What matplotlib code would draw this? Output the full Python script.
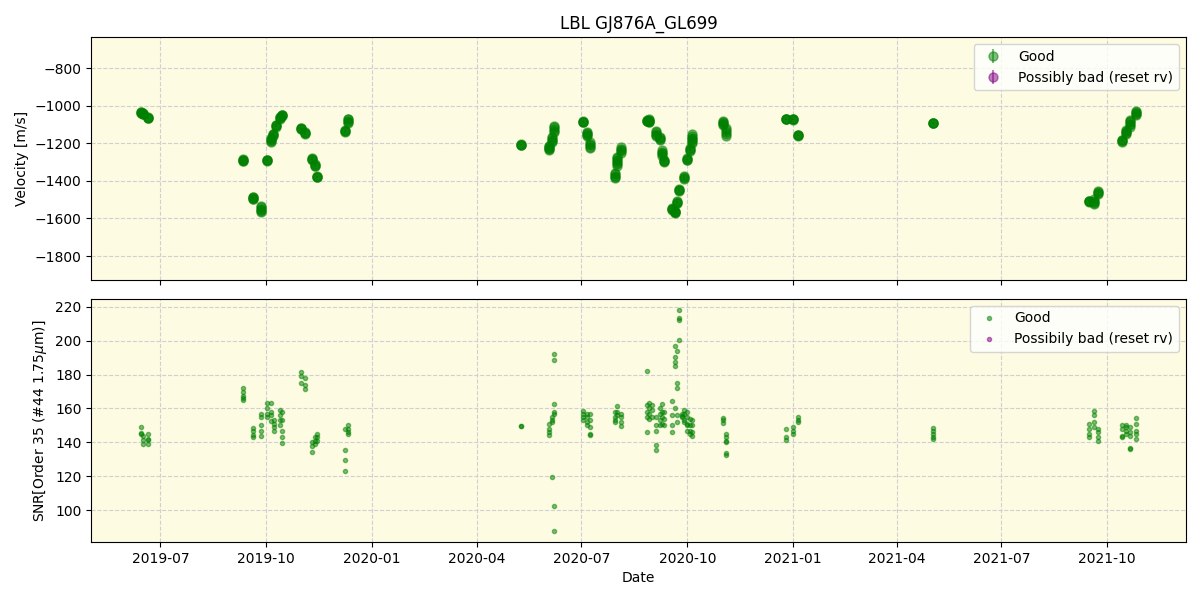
import matplotlib.pyplot as plt
import matplotlib.dates as mdates
import numpy as np
import pandas as pd


# =====
# Nights and velocities (several exposures per night)
# =====
rv_nights = [
    "2019-06-14", "2019-06-16", "2019-06-20",
    "2019-09-11", "2019-09-19", "2019-09-26",
    "2019-10-02", "2019-10-05", "2019-10-07", "2019-10-09", "2019-10-13", "2019-10-15",
    "2019-10-31", "2019-11-04", "2019-11-10", "2019-11-12", "2019-11-14",
    "2019-12-08", "2019-12-11",
    "2020-05-09", "2020-06-03", "2020-06-05", "2020-06-07",
    "2020-07-02", "2020-07-06", "2020-07-08",
    "2020-07-30", "2020-08-01", "2020-08-04",
    "2020-08-27", "2020-08-29",
    "2020-09-04", "2020-09-07", "2020-09-09", "2020-09-11",
    "2020-09-18", "2020-09-20", "2020-09-22", "2020-09-24", "2020-09-28",
    "2020-10-01", "2020-10-03", "2020-10-05",
    "2020-11-01", "2020-11-04", "2020-12-26", "2021-01-01", "2021-01-05",
    "2021-05-03",
    "2021-09-15", "2021-09-20", "2021-09-23",
    "2021-10-14", "2021-10-17", "2021-10-21", "2021-10-26",
]
rv_by_night = [
    [-1033, -1034, -1036, -1036], [-1040, -1041, -1043, -1043], [-1058, -1062, -1063, -1066],
    [-1285, -1288, -1290, -1292, -1294], [-1484, -1488, -1490, -1494, -1496],
    [-1533, -1540, -1548, -1555, -1560, -1566],
    [-1286, -1288, -1290, -1292], [-1193, -1186, -1182, -1176, -1172], [-1160, -1155, -1150, -1148],
    [-1112, -1108, -1104, -1100], [-1068, -1064, -1060, -1058], [-1052, -1050, -1048, -1046],
    [-1118, -1120, -1122, -1124], [-1140, -1144, -1147, -1150], [-1278, -1282, -1285, -1288],
    [-1312, -1316, -1319, -1322], [-1375, -1377, -1378, -1380],
    [-1140, -1136, -1132, -1128], [-1090, -1084, -1078, -1072, -1068],
    [-1205, -1206, -1207, -1208],
    [-1235, -1230, -1226, -1222, -1216, -1212], [-1195, -1188, -1180, -1172, -1165],
    [-1140, -1132, -1122, -1114, -1106],
    [-1082, -1084, -1086, -1088], [-1140, -1146, -1152, -1157, -1162],
    [-1195, -1202, -1210, -1217, -1224],
    [-1385, -1378, -1372, -1365, -1358], [-1320, -1310, -1302, -1294, -1286, -1278, -1272],
    [-1250, -1242, -1235, -1228, -1220],
    [-1082, -1080, -1078, -1076], [-1070, -1074, -1078, -1080, -1084, -1086],
    [-1135, -1141, -1148, -1155, -1162], [-1180, -1176, -1172, -1168],
    [-1236, -1244, -1252, -1259, -1266], [-1288, -1292, -1296, -1300],
    [-1545, -1548, -1552, -1555], [-1562, -1566, -1570, -1568, -1565],
    [-1520, -1516, -1512, -1508], [-1455, -1450, -1447, -1444], [-1392, -1386, -1381, -1376],
    [-1290, -1287, -1284, -1280], [-1240, -1235, -1230, -1225],
    [-1200, -1192, -1184, -1177, -1170, -1160, -1152],
    [-1080, -1085, -1090, -1095, -1100], [-1120, -1130, -1140, -1150, -1160],
    [-1070, -1071, -1071, -1072], [-1070, -1071, -1072, -1073], [-1155, -1156, -1157, -1158],
    [-1090, -1091, -1091, -1092],
    [-1505, -1507, -1508, -1510], [-1522, -1517, -1512, -1505, -1498],
    [-1470, -1465, -1460, -1455],
    [-1190, -1186, -1183, -1180], [-1152, -1146, -1140, -1134, -1128],
    [-1112, -1104, -1096, -1088, -1082, -1076], [-1050, -1044, -1038, -1033, -1028],
]

# =====
# Nights and SNR values
# =====
snr_nights = [
    "2019-06-14", "2019-06-16", "2019-06-20",
    "2019-09-11", "2019-09-19", "2019-09-26",
    "2019-10-02", "2019-10-05", "2019-10-08", "2019-10-13", "2019-10-15",
    "2019-10-31", "2019-11-04", "2019-11-10", "2019-11-12", "2019-11-14",
    "2019-12-08", "2019-12-11",
    "2020-05-09", "2020-06-03", "2020-06-05", "2020-06-07",
    "2020-07-02", "2020-07-06", "2020-07-08",
    "2020-07-30", "2020-08-01", "2020-08-04",
    "2020-08-27", "2020-08-29", "2020-08-31",
    "2020-09-04", "2020-09-07", "2020-09-09", "2020-09-11",
    "2020-09-18", "2020-09-20", "2020-09-22", "2020-09-24", "2020-09-26", "2020-09-28",
    "2020-10-01", "2020-10-03", "2020-10-05",
    "2020-11-01", "2020-11-04", "2020-12-26", "2021-01-01", "2021-01-05",
    "2021-05-03",
    "2021-09-15", "2021-09-20", "2021-09-23",
    "2021-10-14", "2021-10-17", "2021-10-21", "2021-10-26",
]
snr_by_night = [
    [149.2, 145.7, 145.0], [143.7, 141.2, 139.0], [145.1, 142.0, 141.2, 139.2],
    [171.8, 169.5, 167.5, 166.0, 164.8], [148.6, 146.5, 144.5, 143.1],
    [157.0, 155.2, 150.0, 147.0, 143.7],
    [163.4, 160.0, 157.0, 155.0], [163.0, 158.0, 156.0, 152.5],
    [153.0, 151.0, 149.0, 147.0], [159.4, 156.0, 153.0, 150.0],
    [158.0, 153.0, 147.0, 143.0, 139.8],
    [181.4, 179.0, 175.0], [178.0, 174.0, 171.6], [140.0, 138.0, 134.5],
    [143.0, 141.0, 139.0], [144.7, 143.0, 141.0],
    [148.1, 135.7, 129.4, 123.4], [150.0, 148.0, 146.0, 145.0],
    [149.8, 149.4], [148.0, 146.0, 144.5, 151.0], [155.0, 153.0, 152.0, 119.8],
    [192.2, 188.6, 162.4, 158.0, 157.0, 102.8, 88.0],
    [158.8, 157.0, 155.0, 153.0], [157.0, 155.0, 152.0, 150.0],
    [156.9, 153.0, 149.0, 145.0, 144.3],
    [158.0, 155.0, 153.0, 152.0], [161.4, 158.0, 156.0], [157.0, 155.0, 152.0, 149.6],
    [182.2, 162.0, 158.0, 155.0, 146.3], [163.4, 160.0, 157.0, 153.6], [162.0, 159.0, 155.0],
    [155.0, 150.0, 147.0, 138.4, 135.5], [160.0, 157.0, 153.0, 150.0],
    [162.4, 158.0, 155.0, 151.0], [158.0, 154.0, 150.0],
    [164.7, 156.0, 150.0, 146.3], [197.0, 190.6, 187.6, 185.3, 160.4],
    [194.1, 175.1, 172.2, 156.0, 152.0], [218.0, 213.4, 212.2, 200.6],
    [155.5, 157.0, 155.0], [152.0, 159.4, 157.0, 153.0],
    [150.0, 158.0, 155.0, 151.0, 147.0], [145.0, 154.0, 150.0, 147.0],
    [144.0, 153.0, 150.0, 146.0],
    [154.5, 153.0, 151.6], [145.1, 143.0, 141.0, 140.4, 133.9, 132.4],
    [148.0, 143.0, 141.4], [149.0, 147.0, 145.0], [155.0, 153.5, 152.0],
    [148.6, 147.0, 145.0, 143.0, 142.2],
    [150.6, 147.9, 145.1, 143.5], [158.4, 156.0, 152.0, 149.0], [148.0, 146.0, 143.0, 140.8],
    [150.0, 148.0, 144.0, 143.0], [150.0, 149.0, 147.0, 145.0],
    [149.0, 146.0, 144.0, 137.0, 136.0], [154.5, 150.6, 147.0, 145.0, 142.0],
]

rv_dates = pd.to_datetime([d for d, v in zip(rv_nights, rv_by_night) for _ in v])
rv_vals = [x for v in rv_by_night for x in v]
rv_err = np.full(len(rv_vals), 3.0)

snr_dates = pd.to_datetime([d for d, v in zip(snr_nights, snr_by_night) for _ in v])
snr_vals = [x for v in snr_by_night for x in v]

# ====
# Plot Picture
# ====
fig, (ax1, ax2) = plt.subplots(2, 1, figsize=(12, 6), sharex=True)
fig.subplots_adjust(left=0.076, right=0.988, top=0.938, bottom=0.097, hspace=0.078)

for ax in (ax1, ax2):
    ax.set_facecolor('#fdfbe2')
    ax.grid(True, linestyle='--', color='#d0d0d0', linewidth=0.8)
    ax.set_axisbelow(True)

ax1.errorbar(rv_dates, rv_vals, yerr=rv_err, fmt='o', color='green',
             alpha=0.5, ms=6.5, label='Good')
ax1.errorbar([], [], yerr=[], fmt='o', color='purple', alpha=0.5, ms=6.5,
             label='Possibly bad (reset rv)')
ax1.set_ylim(-1928, -634)
ax1.set_ylabel('Velocity [m/s]')
ax1.set_title('LBL GJ876A_GL699')
ax1.legend(loc='upper right')

ax2.plot(snr_dates, snr_vals, 'o', color='green', alpha=0.5, ms=3, label='Good')
ax2.plot([], [], 'o', color='purple', alpha=0.5, ms=3,
         label='Possibily bad (reset rv)')
ax2.set_ylabel(r'SNR[Order 35 (#44 1.75$\mu$m)]')
ax2.set_xlabel('Date')
ax2.legend(loc='upper right')

ax2.xaxis.set_major_locator(mdates.MonthLocator(bymonth=[1, 4, 7, 10]))
ax2.xaxis.set_major_formatter(mdates.DateFormatter('%Y-%m'))

fig.savefig('out.png', dpi=100)
